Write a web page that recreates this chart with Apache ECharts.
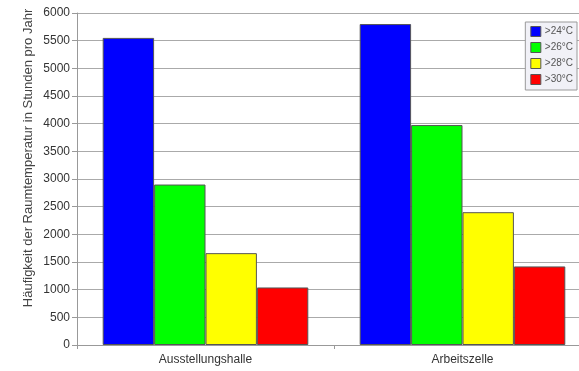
<!DOCTYPE html>
<html>
<head>
<meta charset="utf-8">
<script src="https://cdn.jsdelivr.net/npm/echarts@6/dist/echarts.min.js"></script>
<style>
  html, body { margin: 0; padding: 0; background: #fff; overflow: hidden; }
  /* the drawing surface is a little wider than the page; its right edge is clipped */
  #chart { width: 591px; height: 371px; }
</style>
</head>
<body>
<div id="chart"></div>
<script>
// Hours per year above each room-temperature threshold
const categories = ['Ausstellungshalle', 'Arbeitszelle'];
const seriesNames = ['>24°C', '>26°C', '>28°C', '>30°C'];
const over24 = [5550, 5800];
const over26 = [2900, 3975];
const over28 = [1660, 2400];
const over30 = [1040, 1420];
const yTicks = [0, 500, 1000, 1500, 2000, 2500, 3000, 3500, 4000, 4500, 5000, 5500, 6000];
const yTitle = 'Häufigkeit der Raumtemperatur in Stunden pro Jahr';

const values = [over24, over26, over28, over30];
const colors = ['#0000ff', '#00ff00', '#ffff00', '#ff0000'];
const font = 'Liberation Sans, Arial, sans-serif';

const chart = echarts.init(document.getElementById('chart'), null, { renderer: 'canvas' });

chart.setOption({
  animation: false,
  textStyle: { fontFamily: font },
  grid: { left: 77, top: 13, width: 514, height: 332 },
  graphic: [{
    type: 'text',
    x: 28,
    y: 158,
    rotation: Math.PI / 2,
    style: {
      text: yTitle,
      fontFamily: font,
      fontSize: 13,
      fill: '#444',
      align: 'center',
      verticalAlign: 'middle'
    }
  }],
  legend: {
    orient: 'vertical',
    right: 14,
    top: 22,
    itemWidth: 10,
    itemHeight: 10,
    itemGap: 5,
    padding: [4, 4, 5, 5],
    backgroundColor: '#f1f1f7',
    borderColor: '#9a9a9a',
    borderWidth: 1,
    icon: 'rect',
    itemStyle: { borderColor: '#555', borderWidth: 1 },
    textStyle: { fontSize: 10, lineHeight: 10, color: '#555', padding: [0, 0, 0, -1] },
    data: seriesNames
  },
  xAxis: {
    type: 'category',
    data: categories,
    axisLine: { lineStyle: { color: '#999' } },
    axisTick: { show: true, length: 4, lineStyle: { color: '#999' } },
    axisLabel: { fontSize: 12, color: '#333', margin: 9 },
    splitLine: { show: false }
  },
  yAxis: {
    type: 'value',
    min: yTicks[0],
    max: yTicks[yTicks.length - 1],
    interval: 500,
    axisLine: { show: true, lineStyle: { color: '#999' } },
    axisTick: { show: true, length: 5, lineStyle: { color: '#999' } },
    axisLabel: { fontSize: 12, color: '#333', margin: 7, formatter: v => String(v) },
    splitLine: { show: true, lineStyle: { color: '#aaa', width: 1 } }
  },
  series: seriesNames.map((name, i) => ({
    name: name,
    type: 'bar',
    data: values[i],
    barGap: '0%',
    barCategoryGap: '20%',
    itemStyle: { color: colors[i], borderColor: '#555', borderWidth: 1 }
  }))
});
</script>
</body>
</html>
